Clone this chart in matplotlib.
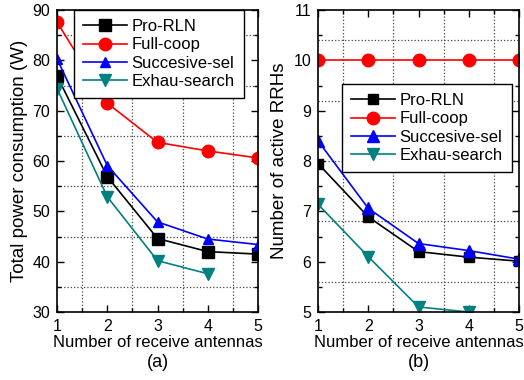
#!/usr/bin/env python3

import matplotlib
matplotlib.use("Agg")
import matplotlib.pyplot as plt
from matplotlib.ticker import MultipleLocator

plt.rcParams['font.family'] = ['Liberation Sans', 'DejaVu Sans']

antennas = [1, 2, 3, 4, 5]
antennas_exh = [1, 2, 3, 4]

# (a) total power consumption (W)
power_pro = [76.9, 56.9, 44.6, 42.0, 41.5]
power_full = [87.6, 71.5, 63.7, 62.0, 60.6]
power_succ = [80.3, 59.1, 47.9, 44.5, 43.4]
power_exh = [74.4, 52.9, 40.2, 37.6]

# (b) number of active RRHs
rrh_pro = [7.95, 6.89, 6.20, 6.09, 6.01]
rrh_full = [10, 10, 10, 10, 10]
rrh_succ = [8.40, 7.06, 6.36, 6.22, 6.05]
rrh_exh = [7.14, 6.10, 5.10, 5.00]

labels = ["Pro-RLN", "Full-coop", "Succesive-sel", "Exhau-search"]
teal = "#008080"

fig = plt.figure(figsize=(5.24, 3.8), dpi=100)
ax1 = fig.add_axes([57 / 524, 68 / 380, 201 / 524, 302 / 380])
ax2 = fig.add_axes([318 / 524, 68 / 380, 201 / 524, 302 / 380])


def style(ax):
    ax.tick_params(which="both", direction="in", top=True, right=True,
                   labelsize=11.5)
    ax.tick_params(which="major", length=5, width=1, pad=5)
    ax.tick_params(which="minor", length=3, width=1)
    for s in ax.spines.values():
        s.set_linewidth(1.2)
    ax.set_xlim(1, 5)
    ax.xaxis.set_major_locator(MultipleLocator(1))
    ax.xaxis.set_minor_locator(MultipleLocator(0.5))
    ax.set_xlabel("Number of receive antennas", fontsize=12, labelpad=1)


def legend(ax, anchor):
    leg = ax.legend(loc="upper left", bbox_to_anchor=anchor, fontsize=12,
                    fancybox=False, edgecolor="black", framealpha=1,
                    borderpad=0.55, labelspacing=0.2, handlelength=2.6,
                    handletextpad=0.3, borderaxespad=0)
    leg.get_frame().set_linewidth(1)


# left panel
ax1.plot(antennas, power_pro, color="black", marker="s", ms=8, lw=1.2,
         label=labels[0])
ax1.plot(antennas, power_full, color="red", marker="o", ms=9, lw=1.2,
         label=labels[1])
ax1.plot(antennas, power_succ, color="blue", marker="^", ms=7, lw=1.2,
         label=labels[2])
ax1.plot(antennas_exh, power_exh, color=teal, marker="v", ms=9, lw=1.2,
         label=labels[3])
style(ax1)
ax1.set_ylim(30, 90)
ax1.yaxis.set_major_locator(MultipleLocator(10))
ax1.yaxis.set_minor_locator(MultipleLocator(5))
ax1.grid(which="minor", linestyle=":", color="#444444", linewidth=0.9)
ax1.set_ylabel("Total power consumption (W)", fontsize=13.5, labelpad=3)
legend(ax1, (0.085, 1.0))
ax1.text(0.5, -0.166, "(a)", transform=ax1.transAxes, ha="center",
         va="center", fontsize=13)

# right panel
ax2.plot(antennas, rrh_pro, color="black", marker="s", ms=7, lw=1.2,
         label=labels[0])
ax2.plot(antennas, rrh_full, color="red", marker="o", ms=9, lw=1.2,
         label=labels[1])
ax2.plot(antennas, rrh_succ, color="blue", marker="^", ms=9, lw=1.2,
         label=labels[2])
ax2.plot(antennas_exh, rrh_exh, color=teal, marker="v", ms=8, lw=1.2,
         label=labels[3])
style(ax2)
ax2.set_ylim(5, 11)
ax2.yaxis.set_major_locator(MultipleLocator(1))
ax2.yaxis.set_minor_locator(MultipleLocator(0.5))
ax2.grid(which="minor", axis="x", linestyle=":", color="#444444",
         linewidth=0.9)
for yg in [5.6, 6.8, 8.0, 9.2, 10.4]:
    ax2.axhline(yg, linestyle=":", color="#444444", linewidth=0.9, zorder=0)
ax2.set_ylabel("Number of active RRHs", fontsize=13.5, labelpad=4)
legend(ax2, (0.12, 0.755))
ax2.text(0.5, -0.166, "(b)", transform=ax2.transAxes, ha="center",
         va="center", fontsize=13)

fig.savefig("out.png", dpi=100)
